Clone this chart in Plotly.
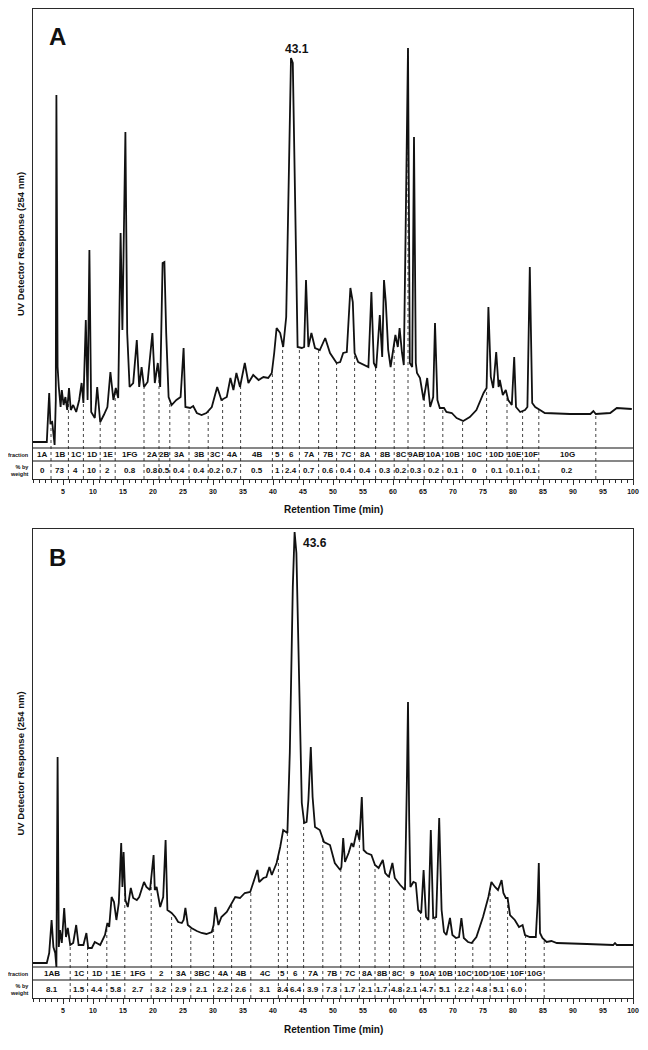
import numpy as np
import plotly.graph_objects as go

# ---- panel A : chromatogram (retention time in min, detector response in arbitrary units)
time_a = [0.0, 2.3, 2.5, 2.7, 2.9, 3.2, 3.6, 3.8, 3.9, 4.1, 4.3, 4.6, 4.8, 5.1, 5.4, 5.7, 6.0, 6.3, 6.7, 7.2,
          7.7, 8.1, 8.4, 8.8, 9.1, 9.4, 9.7, 10.3, 10.7, 11.2, 11.8, 12.4, 12.9, 13.4, 13.8, 14.2, 14.6, 14.9,
          15.4, 15.7, 16.1, 16.7, 17.3, 17.7, 18.1, 18.5, 19.1, 19.9, 20.3, 20.8, 21.2, 21.6, 21.9, 22.2, 22.6,
          23.1, 23.9, 24.6, 25.1, 25.4, 26.2, 26.7, 27.3, 28.1, 28.9, 29.8, 30.7, 31.4, 32.3, 32.9, 33.4, 33.9,
          34.5, 35.3, 35.9, 36.7, 37.6, 38.4, 39.2, 39.8, 40.2, 40.6, 41.2, 41.7, 42.2, 42.6, 43.0, 43.3, 43.7,
          44.1, 44.8, 45.2, 45.5, 45.9, 46.4, 47.0, 47.8, 48.7, 49.5, 50.6, 51.2, 51.7, 52.3, 52.9, 53.3, 53.6,
          54.2, 55.3, 55.9, 56.4, 56.8, 57.2, 57.8, 58.2, 58.5, 58.8, 59.2, 59.6, 60.0, 60.4, 60.8, 61.1, 61.5,
          61.8, 62.1, 62.3, 62.5, 62.8, 63.2, 63.5, 63.8, 64.0, 64.5, 65.1, 65.7, 66.2, 66.7, 67.0, 67.4, 67.8,
          68.5, 68.9, 69.8, 70.6, 71.7, 72.8, 73.9, 75.1, 75.6, 75.9, 76.3, 76.7, 77.2, 77.6, 77.8, 78.3, 78.8,
          79.2, 79.8, 80.2, 80.5, 81.2, 82.0, 82.4, 82.8, 83.2, 83.7, 84.5, 85.3, 89.5, 92.9, 93.4, 93.8, 96.2,
          97.3, 99.8]
resp_a = [6, 6, 31, 55, 25, 26, 3, 48, 353, 81, 61, 41, 58, 43, 51, 38, 60, 38, 43, 36,
          48, 65, 45, 128, 48, 198, 36, 30, 61, 26, 33, 41, 76, 48, 60, 50, 215, 118,
          316, 115, 61, 65, 108, 61, 81, 61, 66, 115, 65, 85, 61, 185, 186, 115, 51,
          43, 48, 51, 100, 41, 40, 42, 35, 33, 35, 41, 61, 48, 51, 70, 58, 75,
          61, 85, 65, 73, 68, 71, 70, 75, 95, 120, 115, 101, 131, 281, 390, 385, 248,
          101, 100, 101, 168, 101, 115, 100, 98, 110, 95, 85, 86, 95, 96, 160, 146, 95,
          86, 83, 81, 156, 85, 80, 133, 91, 168, 146, 98, 81, 95, 113, 101, 120, 95,
          83, 215, 288, 400, 85, 81, 311, 85, 75, 70, 48, 70, 41, 51, 125, 48, 40,
          40, 36, 35, 30, 27, 31, 38, 55, 60, 141, 71, 60, 96, 61, 68, 53, 58,
          48, 43, 91, 41, 36, 38, 41, 181, 45, 41, 38, 35, 34, 34, 37, 34, 35,
          40, 39]
cuts_a = [0, 3.0, 5.9, 8.4, 11.2, 13.7, 18.5, 21.0, 22.8, 26.0, 29.2, 31.6, 34.6, 39.9, 41.6, 44.4, 47.6,
          50.6, 53.6, 57.1, 60.2, 62.5, 65.2, 68.3, 71.6, 75.6, 79.0, 81.6, 84.3, 93.8, 100]
frac_a = ["1A", "1B", "1C", "1D", "1E", "1FG", "2A", "2B", "3A", "3B", "3C", "4A", "4B", "5", "6", "7A", "7B",
          "7C", "8A", "8B", "8C", "9AB", "10A", "10B", "10C", "10D", "10E", "10F", "10G", ""]
wt_a = ["0", "73", "4", "10", "2", "0.8", "0.8", "0.5", "0.4", "0.4", "0.2", "0.7", "0.5", "1", "2.4", "0.7",
        "0.6", "0.4", "0.4", "0.3", "0.2", "0.3", "0.2", "0.1", "0", "0.1", "0.1", "0.1", "0.2", ""]
peak_a = 43.1

# ---- panel B
time_b = [0.0, 2.3, 2.7, 3.1, 3.4, 3.7, 3.9, 4.1, 4.3, 4.5, 4.8, 5.2, 5.5, 5.8, 6.2, 6.7, 7.2, 7.6, 8.4, 8.9,
          9.2, 9.8, 10.3, 11.2, 12.0, 12.4, 12.7, 13.1, 13.5, 13.9, 14.3, 14.7, 14.9, 15.1, 15.4, 15.8, 16.3,
          16.7, 17.3, 17.7, 18.5, 18.9, 19.5, 20.1, 20.3, 20.6, 21.2, 21.7, 22.1, 22.4, 23.1, 23.7, 24.2, 24.8,
          25.1, 25.4, 25.8, 26.4, 27.3, 28.1, 28.9, 29.8, 30.1, 30.4, 30.9, 31.4, 32.3, 33.1, 33.7, 34.5, 35.3,
          36.2, 36.8, 37.4, 37.7, 38.4, 38.9, 39.4, 39.8, 40.6, 41.2, 41.7, 42.4, 42.8, 43.3, 43.6, 43.9, 44.4,
          44.8, 45.2, 45.6, 45.9, 46.3, 46.6, 47.0, 47.8, 48.5, 49.5, 49.8, 50.3, 51.2, 51.4, 51.7, 52.0, 52.6,
          53.1, 53.4, 54.0, 54.4, 54.8, 55.1, 55.6, 56.4, 57.0, 57.6, 58.3, 58.7, 59.3, 59.9, 60.3, 61.2, 62.0,
          62.3, 62.5, 62.7, 62.9, 63.4, 63.8, 64.2, 64.7, 65.1, 65.5, 65.9, 66.3, 66.7, 67.2, 67.7, 68.1, 68.5,
          68.9, 69.5, 69.9, 70.5, 71.0, 71.4, 71.8, 72.5, 73.1, 73.9, 75.0, 75.9, 76.4, 77.0, 77.5, 78.1, 78.4,
          78.8, 79.1, 79.5, 80.3, 81.0, 81.6, 82.0, 82.8, 83.8, 84.1, 84.3, 84.5, 84.9, 85.6, 86.4, 87.3, 92.3,
          96.7, 97.0, 97.3, 100.0]
resp_b = [4, 4, 14, 47, 20, 14, 0, 210, 20, 37, 24, 59, 30, 39, 22, 24, 42, 22, 22, 34,
          19, 19, 25, 22, 32, 44, 40, 70, 65, 47, 64, 124, 80, 115, 67, 60, 79,
          69, 67, 70, 85, 80, 77, 112, 77, 80, 60, 70, 127, 57, 54, 50, 45, 44,
          47, 59, 42, 39, 36, 34, 33, 35, 42, 60, 42, 50, 55, 64, 70, 69, 74,
          75, 87, 97, 85, 89, 90, 100, 92, 104, 120, 137, 134, 214, 380, 435, 414, 280,
          164, 144, 145, 167, 220, 170, 140, 137, 125, 122, 114, 104, 97, 100, 129, 105, 114,
          124, 120, 137, 127, 170, 117, 114, 112, 102, 99, 107, 94, 90, 104, 89, 82, 77,
          180, 265, 147, 80, 85, 84, 57, 54, 97, 50, 47, 137, 49, 50, 149, 57, 35,
          32, 49, 32, 29, 30, 49, 29, 25, 24, 30, 50, 70, 85, 80, 77, 87, 74,
          69, 69, 52, 47, 40, 42, 32, 30, 30, 64, 104, 34, 29, 25, 26, 24, 23,
          22, 24, 22, 22]
cuts_b = [0, 6.2, 9.1, 12.3, 15.3, 19.7, 23.1, 26.3, 30.1, 33.1, 36.3, 40.9, 42.4, 45.1, 48.3, 51.3, 54.4,
          57.0, 59.4, 61.8, 64.6, 67.0, 70.4, 73.3, 76.2, 79.1, 82.1, 85.2, 100]
frac_b = ["1AB", "1C", "1D", "1E", "1FG", "2", "3A", "3BC", "4A", "4B", "4C", "5", "6", "7A", "7B", "7C",
          "8A", "8B", "8C", "9", "10A", "10B", "10C", "10D", "10E", "10F", "10G", ""]
wt_b = ["8.1", "1.5", "4.4", "5.8", "2.7", "3.2", "2.9", "2.1", "2.2", "2.6", "3.1", "3.4", "6.4", "3.9", "7.3",
        "1.7", "2.1", "1.7", "4.8", "2.1", "4.7", "5.1", "2.2", "4.8", "5.1", "6.0", "", ""]
peak_b = 43.6

tick_vals = list(range(5, 101, 5))

# page body has an 8px margin, so the figure is drawn 8px smaller and all pixel positions shifted
OFF = 8
W, H = 648 - OFF, 1050 - OFF
TBL = 31      # table depth below the baseline (same units as response)
ROW = 13      # depth of the "fraction" row


def py(p):
    return 1 - (p - OFF) / H


def px(p):
    return (p - 33) / 600


fig = go.Figure()
LINE = "#2a2a2a"

panels = [
    dict(t=time_a, r=resp_a, cuts=cuts_a, frac=frac_a, wt=wt_a, pk=peak_a, xa="x", ya="y",
         top=9, bot=479, ymax=439, letter="A", xtitle=509),
    dict(t=time_b, r=resp_b, cuts=cuts_b, frac=frac_b, wt=wt_b, pk=peak_b, xa="x2", ya="y2",
         top=529, bot=998, ymax=438, letter="B", xtitle=1029),
]

for k, p in enumerate(panels):
    t = np.array(p["t"])
    r = np.array(p["r"])
    # fraction cut lines (dotted) from the table bottom up to the trace
    lx, ly = [], []
    for c in p["cuts"][1:-1]:
        lx += [c, c, None]
        ly += [-TBL, float(np.interp(c, t, r)), None]
    fig.add_trace(go.Scatter(x=lx, y=ly, mode="lines", xaxis=p["xa"], yaxis=p["ya"],
                             line=dict(color="#444", width=1, dash="dot"), hoverinfo="skip"))
    fig.add_trace(go.Scatter(x=t, y=r, mode="lines", xaxis=p["xa"], yaxis=p["ya"],
                             line=dict(color="#111", width=1.8)))

    # table horizontal rules
    for yv in [0, -ROW]:
        fig.add_shape(type="line", xref=p["xa"], yref=p["ya"], x0=0, x1=100, y0=yv, y1=yv,
                      line=dict(color="#111", width=1.2))
    cuts = p["cuts"]
    for i in range(len(cuts) - 1):
        cx = (cuts[i] + cuts[i + 1]) / 2
        for txt, yv in [(p["frac"][i], -ROW / 2), (p["wt"][i], -(ROW + TBL) / 2)]:
            if txt:
                fig.add_annotation(x=cx, y=yv, xref=p["xa"], yref=p["ya"], text="<b>%s</b>" % txt,
                                   showarrow=False, font=dict(size=8, color="#111"))
    fig.add_annotation(x=-0.004, y=-ROW / 2, xref=p["xa"] + " domain", yref=p["ya"], text="<b>fraction</b>",
                       showarrow=False, xanchor="right", font=dict(size=5.5, color="#111"))
    fig.add_annotation(x=-0.004, y=-(ROW + TBL) / 2, xref=p["xa"] + " domain", yref=p["ya"],
                       text="<b>% by<br>weight</b>", showarrow=False, xanchor="right", align="right",
                       font=dict(size=5.5, color="#111"))

    # panel letter, peak label, axis titles
    fig.add_annotation(x=px(47), y=py(p["top"] + 28), xref="paper", yref="paper",
                       text="<b>%s</b>" % p["letter"], showarrow=False, xanchor="left", yanchor="middle",
                       font=dict(size=24, color="#111"))
    near = np.abs(t - p["pk"]) < 1
    ipk = int(np.flatnonzero(near)[np.argmax(r[near])])
    if k == 0:
        fig.add_annotation(x=t[ipk], y=r[ipk], xref=p["xa"], yref=p["ya"], text="<b>%s</b>" % p["pk"],
                           showarrow=False, yanchor="bottom", xshift=6, font=dict(size=12, color="#111"))
    else:
        fig.add_annotation(x=t[ipk], y=r[ipk], xref=p["xa"], yref=p["ya"], text="<b>%s</b>" % p["pk"],
                           showarrow=False, yanchor="top", xanchor="left", xshift=6, yshift=-2,
                           font=dict(size=12, color="#111"))
    fig.add_annotation(x=px(20), y=py((p["top"] + p["bot"]) / 2), xref="paper", yref="paper",
                       text="<b>UV Detector Response (254 nm)</b>", textangle=-90, showarrow=False,
                       xanchor="center", yanchor="middle", font=dict(size=9.5, color="#111"))
    fig.add_annotation(x=0.5, y=py(p["xtitle"]), xref="paper", yref="paper", xanchor="center",
                       yanchor="middle", text="<b>Retention Time (min)</b>", showarrow=False,
                       font=dict(size=10, color="#111"))

xax = dict(range=[0, 100], showgrid=False, zeroline=False, showline=True, mirror=True, automargin=False,
           linecolor=LINE, linewidth=1.4, tickvals=tick_vals, ticks="outside", ticklen=5, tickwidth=1,
           tickcolor=LINE, tickfont=dict(size=7, color="#111", weight="bold"),
           minor=dict(ticks="outside", ticklen=3, dtick=1, tick0=0, tickcolor=LINE, tickwidth=1))
yax = dict(showgrid=False, zeroline=False, showline=True, mirror=True, linecolor=LINE, linewidth=1.4,
           showticklabels=False, ticks="", automargin=False)

fig.update_layout(
    width=W, height=H, showlegend=False,
    margin=dict(l=33 - OFF, r=15, t=0, b=0),
    plot_bgcolor="white", paper_bgcolor="white",
    font=dict(family="Liberation Sans, Arial, sans-serif"),
    xaxis=dict(xax, anchor="y"),
    xaxis2=dict(xax, anchor="y2"),
    yaxis=dict(yax, anchor="x", range=[-TBL, panels[0]["ymax"]],
               domain=[py(panels[0]["bot"]), py(panels[0]["top"])]),
    yaxis2=dict(yax, anchor="x2", range=[-TBL, panels[1]["ymax"]],
                domain=[py(panels[1]["bot"]), py(panels[1]["top"])]),
)

fig.write_html("out.html")
